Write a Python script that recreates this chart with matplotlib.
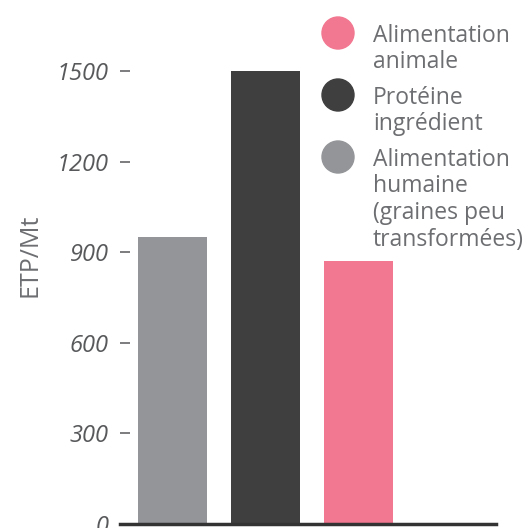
import matplotlib
matplotlib.use("Agg")
import matplotlib.pyplot as plt
import matplotlib.patches as mpatches

plt.rcParams['font.family'] = ['Open Sans', 'DejaVu Sans']

# ETP per million tonnes, by use of the crop
categories = ["Alimentation humaine (graines peu transformées)",
              "Protéine ingrédient",
              "Alimentation animale"]
legend_lines = [["Alimentation", "humaine", "(graines peu", "transformées)"],
                ["Protéine", "ingrédient"],
                ["Alimentation", "animale"]]
values = [950, 1500, 870]
colors = ["#939598", "#3f3f3f", "#f27790"]
yticks = [0, 300, 600, 900, 1200, 1500]

# legend order, top to bottom
legend_order = [2, 1, 0]

W = H = 528
fig = plt.figure(figsize=(5.28, 5.28), dpi=100)
ax = fig.add_axes([120 / W, 4 / H, 376 / W, 484 / H])

x = range(len(values))
ax.bar(x, values, width=0.74, color=colors)
ax.set_xlim(-0.56, 3.48)
ax.set_ylim(0, 1500 * 484 / 453)

for side in ["top", "right", "left"]:
    ax.spines[side].set_visible(False)
ax.spines["bottom"].set_color("#333333")
ax.spines["bottom"].set_linewidth(2.5)

ax.set_xticks([])
ax.set_yticks(yticks)
ax.set_yticklabels([str(v) for v in yticks], fontstyle="italic",
                   fontsize=17, color="#58595b")
ax.tick_params(axis="y", direction="in", length=7, width=1.1,
               color="#58595b", pad=8)
ax.set_ylabel("ETP/Mt", fontsize=18, color="#6d6e71")
ax.yaxis.set_label_coords(-0.205, 0.556)

# legend drawn by hand: dots with wrapped labels
dot_y = [33, 95, 157]
for i, yy in zip(legend_order, dot_y):
    fig.patches.append(mpatches.Circle((338 / W, 1 - yy / H), 16 / W,
                                       transform=fig.transFigure,
                                       color=colors[i]))
    for k, line in enumerate(legend_lines[i]):
        fig.text(373 / W, 1 - (yy + 9 + 26.5 * k) / H, line, fontsize=16.5,
                 color="#6d6e71", ha="left", va="baseline")

fig.savefig("out.png", dpi=100)
